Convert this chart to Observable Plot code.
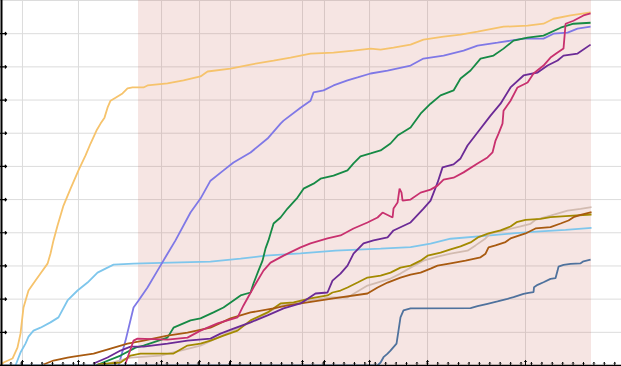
<!DOCTYPE html>
<html>
<head>
<meta charset="utf-8">
<script src="https://cdn.jsdelivr.net/npm/d3@7"></script>
<script src="https://cdn.jsdelivr.net/npm/@observablehq/plot@0.6"></script>
<style>
  html, body { margin: 0; padding: 0; background: #fff; }
  #chart svg { display: block; }
</style>
</head>
<body>
<div id="chart"></div>
<script>
// x = months since Dec 2019, y = cumulative count
const xDomain = [0, 59.65];
const yDomain = [0, 1100];
const monthTicks = d3.range(1, 60);
const markerMonths = [2.11, 7.49, 15.47, 19.12, 22.09, 29.01, 31.12, 35.45, 41.02, 50.43];
const yTicks = d3.range(100, 1001, 100);
const yGrid = d3.range(100, 1101, 100);
const shadeSpan = [13.26, 56.77];

const seriesNames = ["yellow", "lightblue", "periwinkle", "green", "tan", "olive", "brown", "purple", "crimson", "steel"];
const seriesColors = ["#f6c36c", "#7ec6ec", "#7f78e6", "#168a45", "#d2bbb0", "#a38a00", "#a85a10", "#6b2a96", "#c8306e", "#4f729d"];

const yellow = [[0,0],[0.29,9],[1.15,21],[1.63,54],[1.92,96],[2.21,175],[2.69,226],[3.36,256],[3.84,277],[4.52,307],[4.80,337],[5.09,377],[5.48,422],[6.05,482],[6.73,533],[7.49,588],[8.17,633],[8.65,669],[9.22,708],[9.61,729],[9.99,747],[10.28,777],[10.57,798],[11.05,807],[11.72,820],[12.20,835],[12.68,838],[13.74,838],[14.12,844],[16.04,850],[17.58,859],[19.21,871],[19.89,886],[22.09,895],[24.02,907],[26.23,919],[27.86,928],[29.78,940],[31.99,943],[33.91,949],[35.55,955],[36.51,952],[37.75,958],[39.39,967],[40.63,982],[42.56,991],[44.19,997],[45.82,1006],[48.32,1021],[50.63,1024],[52.16,1030],[53.12,1045],[54.76,1055],[56.68,1064]];

const lightblue = [[1.44,0],[1.92,39],[2.40,66],[2.69,87],[3.17,105],[3.84,114],[4.80,130],[5.57,145],[6.44,196],[7.40,226],[8.36,250],[9.32,280],[10.28,295],[10.86,304],[12.78,307],[16.33,310],[20.17,313],[23.06,322],[25.46,331],[28.82,338],[32.18,346],[36.51,352],[39.39,357],[41.31,367],[43.23,382],[47.07,392],[49.47,399],[51.87,404],[54.28,409],[56.77,415]];

const periwinkle = [[11.34,0],[12.01,75],[12.78,175],[13.26,196],[14.12,235],[15.08,286],[16.04,337],[16.81,377],[18.25,461],[19.21,503],[20.17,557],[21.42,588],[22.38,612],[24.02,642],[25.65,684],[26.90,729],[27.19,738],[28.82,777],[29.78,798],[30.07,823],[31.03,829],[31.99,844],[33.33,859],[34.30,868],[35.55,880],[37.18,889],[39.39,904],[40.63,925],[42.56,934],[44.48,949],[45.82,964],[47.74,973],[48.99,979],[50.24,985],[52.16,985],[53.12,1000],[54.47,1003],[55.43,1015],[56.68,1021]];

const green = [[9.13,0],[11.53,30],[12.97,54],[13.74,60],[16.04,84],[16.62,114],[18.25,136],[19.21,142],[20.46,160],[21.42,175],[22.38,196],[23.06,211],[24.02,220],[24.30,247],[24.78,286],[25.17,316],[25.46,353],[25.74,377],[25.94,398],[26.23,428],[26.90,446],[27.57,473],[28.53,506],[29.11,533],[30.07,548],[30.74,563],[31.99,572],[33.33,588],[33.91,609],[34.58,630],[35.55,639],[36.51,648],[37.46,669],[38.14,693],[39.39,717],[40.35,759],[41.31,789],[42.27,814],[43.52,829],[44.19,865],[45.15,889],[46.11,925],[47.36,934],[48.32,955],[49.28,979],[50.63,988],[52.16,994],[53.80,1018],[55.04,1030],[56.68,1033]];

const tan = [[9.61,0],[12.49,24],[15.37,30],[19.21,60],[24.02,130],[26.90,181],[29.78,196],[31.70,205],[33.33,205],[35.25,241],[37.46,262],[38.42,277],[39.39,295],[40.63,316],[41.98,328],[43.23,337],[44.86,346],[45.63,362],[46.59,383],[47.07,398],[49.95,419],[50.91,427],[51.39,439],[52.83,452],[54.47,467],[55.72,472],[56.77,477]];

const olive = [[9.32,3],[11.53,9],[12.49,30],[13.45,36],[15.08,36],[16.62,36],[17.96,60],[19.21,66],[20.17,75],[21.42,90],[22.77,105],[24.02,136],[25.65,160],[26.90,187],[28.15,190],[29.78,202],[31.41,211],[31.89,220],[32.66,226],[33.33,235],[34.30,250],[35.25,265],[36.51,271],[37.46,280],[38.42,295],[39.39,301],[40.35,316],[41.02,331],[42.27,340],[43.23,350],[44.19,359],[45.15,371],[45.92,387],[46.88,398],[48.03,407],[48.99,419],[49.57,432],[50.43,439],[51.87,442],[52.83,447],[54.28,450],[56.77,455]];

const brown = [[4.13,3],[5.09,15],[6.44,24],[7.01,27],[8.94,36],[10.57,51],[12.20,66],[13.74,75],[16.04,90],[17.96,99],[20.17,114],[22.09,142],[24.02,160],[26.23,172],[27.57,181],[29.49,190],[31.99,202],[35.25,217],[36.22,235],[37.18,250],[38.42,265],[39.39,274],[40.35,280],[41.31,292],[41.98,301],[43.23,308],[44.67,316],[46.11,326],[46.59,337],[46.88,356],[47.55,362],[48.51,372],[48.99,383],[50.43,398],[51.39,413],[52.83,417],[53.80,428],[54.56,437],[55.04,447],[55.72,454],[56.77,462]];

const purple = [[8.94,6],[10.28,24],[11.53,45],[12.49,57],[13.74,57],[16.04,66],[17.96,75],[20.17,81],[21.13,96],[22.38,111],[24.02,130],[25.65,151],[27.19,172],[28.82,187],[30.26,217],[31.41,220],[31.89,256],[32.66,277],[33.33,301],[33.91,337],[34.87,368],[35.83,377],[37.18,386],[37.75,407],[39.39,431],[40.63,473],[41.31,497],[41.98,551],[42.46,597],[43.52,606],[44.19,624],[44.86,663],[45.82,702],[47.07,753],[48.03,789],[48.99,838],[50.24,874],[51.59,883],[52.55,904],[53.51,919],[54.08,934],[55.43,940],[56.68,967]];

const crimson = [[12.01,6],[12.78,75],[13.16,81],[16.04,78],[17.96,84],[19.21,105],[20.85,127],[22.77,145],[23.34,181],[24.30,235],[25.26,286],[25.94,310],[27.19,331],[28.82,356],[29.78,368],[31.41,383],[32.66,392],[33.91,413],[35.25,431],[36.22,446],[36.70,461],[37.66,446],[37.75,473],[38.14,491],[38.33,533],[38.52,521],[38.62,497],[39.39,500],[40.35,521],[41.31,530],[41.98,542],[42.56,560],[43.52,566],[44.48,582],[45.82,609],[46.78,627],[47.26,642],[47.55,678],[47.84,699],[48.22,729],[48.32,768],[48.99,798],[49.66,838],[50.63,853],[51.20,880],[52.16,904],[52.83,928],[53.51,943],[54.08,955],[54.28,1030],[55.04,1039],[56.00,1055],[56.68,1061]];

const steel = [[0,0],[36.22,0],[36.51,9],[36.79,25],[37.18,36],[37.46,45],[38.04,66],[38.23,105],[38.42,145],[38.71,166],[39.39,172],[45.15,173],[45.82,179],[46.78,186],[47.74,193],[48.70,201],[49.28,206],[50.24,216],[50.72,219],[51.20,221],[51.25,236],[51.59,243],[52.16,251],[52.83,261],[53.31,263],[53.51,286],[53.60,298],[54.08,303],[54.76,306],[55.72,308],[56.00,314],[56.68,319]];

const seriesData = {yellow, lightblue, periwinkle, green, tan, olive, brown, purple, crimson, steel};
const rows = seriesNames.flatMap(name => seriesData[name].map(([m, v]) => ({name, m, v})));

const chart = Plot.plot({
  width: 621,
  height: 366,
  marginTop: 0,
  marginRight: 0,
  marginBottom: 1,
  marginLeft: 0,
  style: {background: "#fff", overflow: "visible"},
  x: {domain: xDomain, axis: null},
  y: {domain: yDomain, axis: null},
  color: {domain: seriesNames, range: seriesColors},
  marks: [
    Plot.ruleY(yGrid, {stroke: "#dcdcdc", strokeWidth: 1}),
    Plot.ruleX(markerMonths, {stroke: "#dcdcdc", strokeWidth: 1}),
    Plot.rect([shadeSpan], {x1: d => d[0], x2: d => d[1], fill: "rgb(195,82,68)", fillOpacity: 0.15}),
    Plot.line(rows, {x: "m", y: "v", z: "name", stroke: "name", strokeWidth: 1.8, strokeLinejoin: "miter", strokeLinecap: "butt"}),
    Plot.ruleY([0], {stroke: "#000", strokeWidth: 1.5}),
    Plot.ruleX([xDomain[0]], {stroke: "#000", strokeWidth: 2, dx: 1}),
    Plot.vector(yTicks, {x: xDomain[0], y: d => d, rotate: 90, length: 6, anchor: "start", stroke: "#000", strokeWidth: 1.2}),
    Plot.vector(monthTicks, {x: d => d, y: 0, rotate: 0, length: 3, anchor: "start", stroke: "#000", strokeWidth: 1}),
    Plot.vector(markerMonths, {x: d => d, y: 0, rotate: 0, length: 5, anchor: "start", stroke: "#000", strokeWidth: 1})
  ]
});
document.getElementById("chart").append(chart);
</script>
</body>
</html>
